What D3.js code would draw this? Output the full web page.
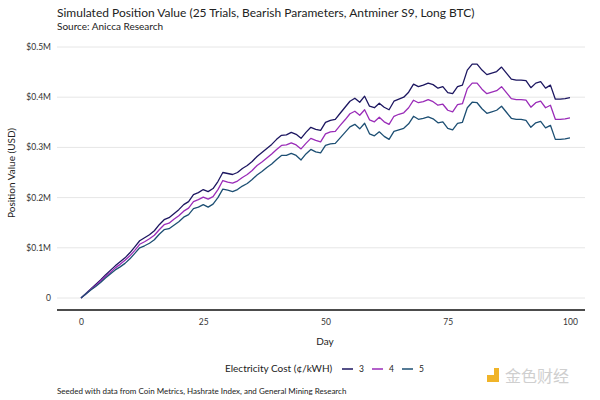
<!DOCTYPE html>
<html>
<head>
<meta charset="utf-8">
<script src="https://cdn.jsdelivr.net/npm/d3@7"></script>
<style>
  body { margin: 0; background: #fff; font-family: Lato, "Noto Sans", sans-serif; }
  svg text { fill: #222; }
</style>
</head>
<body>
<div id="chart"></div>
<script>
// values in millions of USD, one per day 0..100
const days = d3.range(0, 101);
const cost3 = [0, .009, .018, .027, .036, .046, .055, .064, .072, .080,
  .090, .102, .114, .120, .126, .134, .146, .156, .160, .168,
  .176, .186, .192, .206, .210, .216, .212, .218, .232, .250,
  .248, .246, .250, .258, .264, .272, .282, .290, .298, .306,
  .316, .324, .325, .330, .326, .318, .330, .340, .336, .334,
  .350, .354, .356, .368, .380, .392, .398, .390, .402, .382,
  .379, .388, .380, .375, .392, .396, .400, .410, .426, .421,
  .424, .428, .425, .418, .421, .409, .407, .421, .424, .454,
  .466, .466, .454, .445, .448, .451, .460, .448, .436, .434,
  .434, .433, .419, .428, .431, .418, .424, .396, .396, .397, .399];
const cost4 = [0, .008, .017, .025, .034, .043, .051, .060, .067, .075,
  .084, .095, .107, .112, .118, .125, .136, .146, .149, .157,
  .164, .173, .179, .192, .196, .201, .197, .202, .216, .234,
  .231, .229, .233, .240, .246, .254, .264, .271, .279, .287,
  .296, .304, .305, .309, .305, .297, .308, .318, .314, .311,
  .327, .331, .332, .344, .355, .367, .372, .364, .375, .355,
  .351, .360, .351, .346, .362, .366, .369, .379, .394, .389,
  .391, .395, .391, .384, .386, .374, .371, .385, .387, .417,
  .428, .428, .416, .407, .410, .413, .421, .409, .397, .395,
  .395, .394, .380, .389, .392, .379, .384, .356, .356, .357, .359];
const cost5 = [0, .008, .016, .023, .031, .040, .048, .056, .062, .069,
  .078, .089, .100, .104, .109, .116, .127, .136, .138, .145,
  .152, .161, .166, .178, .181, .186, .181, .187, .200, .217,
  .215, .212, .216, .223, .228, .236, .245, .252, .260, .267,
  .276, .284, .284, .288, .284, .275, .287, .296, .291, .289,
  .304, .307, .308, .319, .330, .341, .346, .337, .348, .327,
  .323, .331, .322, .316, .332, .335, .338, .347, .362, .356,
  .358, .361, .357, .349, .351, .338, .335, .348, .350, .379,
  .390, .389, .377, .368, .371, .374, .382, .370, .358, .356,
  .356, .354, .340, .349, .352, .339, .344, .316, .316, .317, .319];

const seriesNames = ["3", "4", "5"];
const seriesValues = [cost3, cost4, cost5];
const colors = ["#1c1660", "#9a2cb8", "#1d4f73"];
const yTicks = [0, 0.1, 0.2, 0.3, 0.4, 0.5];
const xTicks = [0, 25, 50, 75, 100];

const W = 600, H = 400;
const svg = d3.select("#chart").append("svg")
  .attr("width", W).attr("height", H);

const x = d3.scaleLinear().domain([0, 100]).range([81, 570]);
const y = d3.scaleLinear().domain([0, 0.5]).range([298, 47]);

// title block
svg.append("text").attr("x", 57).attr("y", 17)
  .style("font-size", "12px")
  .text("Simulated Position Value (25 Trials, Bearish Parameters, Antminer S9, Long BTC)");
svg.append("text").attr("x", 57).attr("y", 30)
  .style("font-size", "10px")
  .text("Source: Anicca Research");

// gridlines + y labels
svg.append("g").selectAll("line").data(yTicks).join("line")
  .attr("x1", 57).attr("x2", 585)
  .attr("y1", d => y(d)).attr("y2", d => y(d))
  .attr("stroke", "#e6e6e6").attr("stroke-width", 1);

svg.append("g").selectAll("text").data(yTicks).join("text")
  .attr("x", 51).attr("y", d => y(d) + 3)
  .attr("text-anchor", "end")
  .style("font-size", "8.5px").style("fill", "#333")
  .text(d => d === 0 ? "0" : "$" + d.toFixed(1) + "M");

svg.append("text")
  .attr("transform", "translate(15,173) rotate(-90)")
  .attr("text-anchor", "middle")
  .style("font-size", "10px")
  .text("Position Value (USD)");

// x axis
const xAxis = svg.append("g")
  .attr("transform", "translate(0,310)")
  .call(d3.axisBottom(x).tickValues(xTicks).tickSize(0).tickPadding(9));
xAxis.select(".domain").remove();
xAxis.selectAll("text").style("font-size", "8.5px").style("fill", "#333")
  .style("font-family", "Lato, 'Noto Sans', sans-serif");
svg.append("line").attr("x1", 57).attr("x2", 585)
  .attr("y1", 310).attr("y2", 310)
  .attr("stroke", "#111").attr("stroke-width", 1.3);

svg.append("text").attr("x", 325).attr("y", 345)
  .attr("text-anchor", "middle")
  .style("font-size", "10px")
  .text("Day");

// lines
const line = d3.line()
  .x((d, i) => x(days[i]))
  .y(d => y(d));

svg.append("g").selectAll("path").data(seriesValues).join("path")
  .attr("fill", "none")
  .attr("stroke", (d, i) => colors[i])
  .attr("stroke-width", 1.3)
  .attr("stroke-linejoin", "round")
  .attr("d", line);

// legend
const legend = svg.append("g").attr("transform", "translate(0,372)");
legend.append("text").attr("x", 225).attr("y", 0)
  .style("font-size", "10px")
  .text("Electricity Cost (\u00a2/kWH)");
seriesNames.forEach((name, i) => {
  const lx = 342 + i * 30;
  legend.append("line").attr("x1", lx).attr("x2", lx + 11)
    .attr("y1", -3).attr("y2", -3)
    .attr("stroke", colors[i]).attr("stroke-width", 1.5);
  legend.append("text").attr("x", lx + 17).attr("y", 0)
    .style("font-size", "8.5px")
    .text(name);
});

// footer
svg.append("text").attr("x", 57).attr("y", 394)
  .style("font-size", "8px")
  .text("Seeded with data from Coin Metrics, Hashrate Index, and General Mining Research");

// watermark
const wm = svg.append("g").attr("transform", "translate(487,382)");
wm.append("rect").attr("x", 0).attr("y", -7).attr("width", 7).attr("height", 7)
  .attr("fill", "#f0b429");
wm.append("rect").attr("x", 7).attr("y", -14).attr("width", 5).attr("height", 14)
  .attr("fill", "#f0b429");
wm.append("text").attr("x", 18).attr("y", 0)
  .style("font-size", "16px")
  .style("font-family", "'Noto Sans CJK SC', sans-serif")
  .style("fill", "#cfcfcf")
  .text("金色财经");
</script>
</body>
</html>
